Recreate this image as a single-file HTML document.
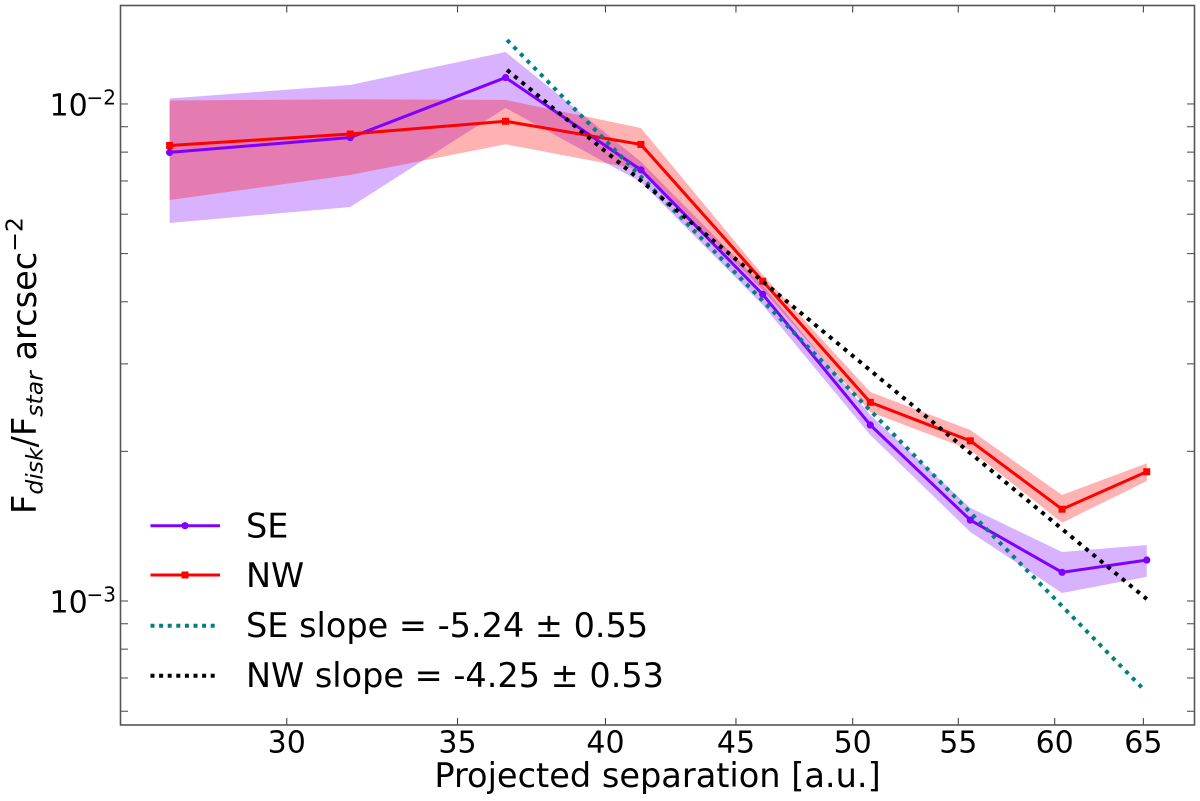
<!DOCTYPE html>
<html lang="en">
<head>
<meta charset="utf-8">
<title>Disk surface brightness profile</title>
<style>
html,body{margin:0;padding:0;background:#fff;width:1200px;height:801px;overflow:hidden}
svg{display:block;filter:blur(0.35px)}
text{font-family:"DejaVu Sans","Liberation Sans",sans-serif;fill:#000}
</style>
</head>
<body>
<svg id="chart" width="1200" height="801" viewBox="0 0 1200 801" xmlns="http://www.w3.org/2000/svg">
  <rect x="0" y="0" width="1200" height="801" fill="#fff"/>
  <g id="bands"></g>
  <g id="series"></g>
  <g id="fits"></g>
  <g id="ticks"></g>
  <rect x="120.5" y="5.5" width="1074" height="719.5" fill="none" stroke="#555" stroke-width="1.6"/>
  <g id="tick-labels"></g>
  <text x="657.5" y="787" font-size="33.6" text-anchor="middle">Projected separation [a.u.]</text>
  <text transform="translate(36,514) rotate(-90)" font-size="33.6">F<tspan font-size="23.5" font-style="italic" dy="6.7">disk</tspan><tspan dy="-6.7">/F</tspan><tspan font-size="23.5" font-style="italic" dy="6.7">star</tspan><tspan dy="-6.7"> arcsec</tspan><tspan font-size="23.5" dy="-13.3">−2</tspan></text>
  <g>
    <g>
      <line x1="150.5" y1="525.7" x2="220" y2="525.7" stroke="#7f00ff" stroke-width="3"/>
      <circle cx="185" cy="525.7" r="3.6" fill="#7f00ff"/>
      <text x="246" y="537.5" font-size="33.5">SE</text>
    </g>
    <g>
      <line x1="150.5" y1="575" x2="220" y2="575" stroke="#ff0000" stroke-width="3"/>
      <rect x="181.5" y="571.5" width="7" height="7" fill="#ff0000"/>
      <text x="246" y="587" font-size="33.5">NW</text>
    </g>
    <g>
      <line x1="150.5" y1="625.7" x2="219" y2="625.7" stroke="#008080" stroke-width="4" stroke-dasharray="4 4.6"/>
      <text x="246" y="637" font-size="33.5">SE slope = -5.24 ± 0.55</text>
    </g>
    <g>
      <line x1="150.5" y1="675.7" x2="219" y2="675.7" stroke="#000" stroke-width="4" stroke-dasharray="4 4.6"/>
      <text x="246" y="687" font-size="33.5">NW slope = -4.25 ± 0.53</text>
    </g>
  </g>
</svg>
<script>
var separationAu = [26.99, 31.77, 36.55, 41.3, 46.1, 50.8, 55.6, 60.4, 65.2];
var seFlux = [7.99e-3, 8.56e-3, 1.13e-2, 7.37e-3, 4.14e-3, 2.26e-3, 1.455e-3, 1.142e-3, 1.209e-3];
var seUpper = [1.0258e-2, 1.092e-2, 1.272e-2, 7.654e-3, 4.323e-3, 2.367e-3, 1.539e-3, 1.255e-3, 1.296e-3];
var seLower = [5.761e-3, 6.206e-3, 9.816e-3, 6.968e-3, 3.941e-3, 2.158e-3, 1.377e-3, 1.038e-3, 1.118e-3];
var nwFlux = [8.25e-3, 8.70e-3, 9.23e-3, 8.29e-3, 4.40e-3, 2.51e-3, 2.10e-3, 1.53e-3, 1.82e-3];
var nwUpper = [1.016e-2, 1.022e-2, 1.019e-2, 8.948e-3, 4.528e-3, 2.633e-3, 2.208e-3, 1.634e-3, 1.893e-3];
var nwLower = [6.41e-3, 7.196e-3, 8.297e-3, 7.366e-3, 4.225e-3, 2.40e-3, 2.013e-3, 1.437e-3, 1.744e-3];
var seFitX = [36.6, 65.0];
var seFitY = [1.345e-2, 6.65e-4];
var nwFitX = [36.6, 65.2];
var nwFitY = [1.1706e-2, 1.009e-3];
var xTickValues = [30, 35, 40, 45, 50, 55, 60, 65];
var xTickLabels = ['30', '35', '40', '45', '50', '55', '60', '65'];
var yMajorValues = [1e-3, 1e-2];
var yMajorExponents = ['−3', '−2'];
var yMinorValues = [6e-4, 7e-4, 8e-4, 9e-4, 2e-3, 3e-3, 4e-3, 5e-3, 6e-3, 7e-3, 8e-3, 9e-3];
var xDomain = [25.82, 68.07];
var yDomain = [5.63e-4, 1.578e-2];

var NS = 'http://www.w3.org/2000/svg';
var plot = {left: 120.5, right: 1194.5, top: 5.5, bottom: 725};

function sx(v) {
  return plot.left + (plot.right - plot.left) * Math.log(v / xDomain[0]) / Math.log(xDomain[1] / xDomain[0]);
}
function sy(v) {
  return plot.bottom - (plot.bottom - plot.top) * Math.log(v / yDomain[0]) / Math.log(yDomain[1] / yDomain[0]);
}
function make(tag, attrs, parent) {
  var el = document.createElementNS(NS, tag);
  for (var k in attrs) { el.setAttribute(k, attrs[k]); }
  parent.appendChild(el);
  return el;
}
function linePoints(xs, ys) {
  return xs.map(function (x, i) { return sx(x).toFixed(2) + ',' + sy(ys[i]).toFixed(2); }).join(' ');
}
function bandPoints(xs, up, lo) {
  var a = xs.map(function (x, i) { return sx(x).toFixed(2) + ',' + sy(up[i]).toFixed(2); });
  var b = xs.map(function (x, i) { return sx(x).toFixed(2) + ',' + sy(lo[i]).toFixed(2); }).reverse();
  return a.concat(b).join(' ');
}

var bands = document.getElementById('bands');
var series = document.getElementById('series');
var fits = document.getElementById('fits');
var ticks = document.getElementById('ticks');
var tickLabels = document.getElementById('tick-labels');

var seBand = make('polygon', {points: bandPoints(separationAu, seUpper, seLower), fill: '#7f00ff', 'fill-opacity': 0.3}, bands);


var nwBand = make('polygon', {points: bandPoints(separationAu, nwUpper, nwLower), fill: '#ff0000', 'fill-opacity': 0.3}, bands);



var seLine = make('polyline', {points: linePoints(separationAu, seFlux), fill: 'none', stroke: '#7f00ff', 'stroke-width': 3}, series);


separationAu.forEach(function (x, i) {
  var c = make('circle', {cx: sx(x), cy: sy(seFlux[i]), r: 3.6, fill: '#7f00ff'}, series);
  
  
});
var nwLine = make('polyline', {points: linePoints(separationAu, nwFlux), fill: 'none', stroke: '#ff0000', 'stroke-width': 3}, series);


separationAu.forEach(function (x, i) {
  var r = make('rect', {x: sx(x) - 3.5, y: sy(nwFlux[i]) - 3.5, width: 7, height: 7, fill: '#ff0000'}, series);
  
  
});

var seFit = make('polyline', {points: linePoints(seFitX, seFitY), fill: 'none', stroke: '#008080', 'stroke-width': 4, 'stroke-dasharray': '4 5.5'}, fits);


var nwFit = make('polyline', {points: linePoints(nwFitX, nwFitY), fill: 'none', stroke: '#000', 'stroke-width': 4, 'stroke-dasharray': '4 5.5'}, fits);



xTickValues.forEach(function (v, i) {
  var x = sx(v);
  var b = make('line', {x1: x, x2: x, y1: plot.bottom, y2: plot.bottom - 7, stroke: '#444', 'stroke-width': 1.1}, ticks);
  
  
  var t = make('line', {x1: x, x2: x, y1: plot.top, y2: plot.top + 7, stroke: '#444', 'stroke-width': 1.1}, ticks);
  
  
  var lab = make('text', {x: x, y: 752.5, 'font-size': 30, 'text-anchor': 'middle'}, tickLabels);
  
  
  lab.textContent = xTickLabels[i];
});

yMajorValues.concat(yMinorValues).forEach(function (v) {
  var y = sy(v);
  var l = make('line', {x1: plot.left, x2: plot.left + 7.5, y1: y, y2: y, stroke: '#555', 'stroke-width': 1.1}, ticks);
  
  
  var r = make('line', {x1: plot.right, x2: plot.right - 7.5, y1: y, y2: y, stroke: '#555', 'stroke-width': 1.1}, ticks);
  
  
});

yMajorValues.forEach(function (v, i) {
  var y = sy(v);
  var base = make('text', {x: 49.5, y: y + 11.7, 'font-size': 30}, tickLabels);
  
  
  base.textContent = '10';
  var exp = make('text', {x: 86.5, y: y + 0.7, 'font-size': 20}, tickLabels);
  
  
  exp.textContent = yMajorExponents[i];
});
</script>
</body>
</html>
